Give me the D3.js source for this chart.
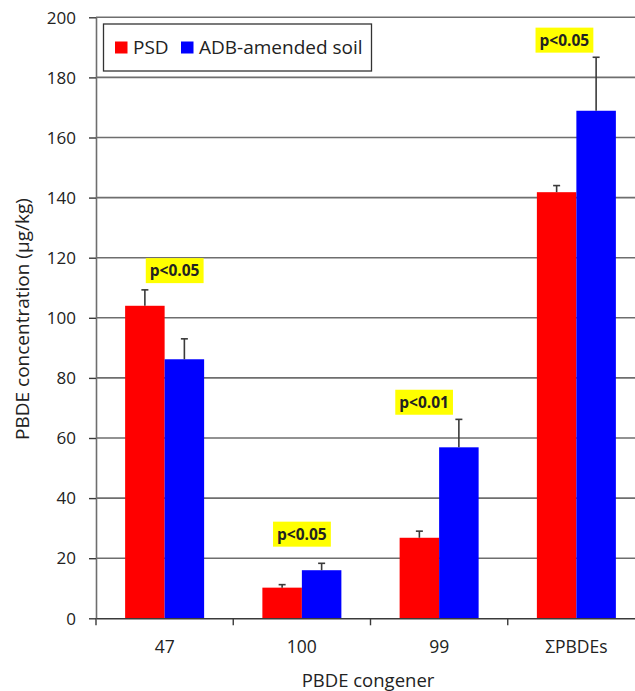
<!DOCTYPE html>
<html>
<head>
<meta charset="utf-8">
<script src="https://cdn.jsdelivr.net/npm/d3@7"></script>
<style>
  html, body { margin: 0; padding: 0; background: #fff; }
  svg { display: block; }
  text { font-family: "Open Sans", "Liberation Sans", sans-serif; fill: #222; }
</style>
</head>
<body>
<svg id="chart" width="635" height="691"></svg>
<script>
// PBDE congener concentrations, mean + upper error bar (µg/kg)
const congeners = ["47", "100", "99", "ΣPBDEs"];
const seriesNames = ["PSD", "ADB-amended soil"];
const seriesColors = ["#ff0000", "#0000ff"];
const psdMean = [104.0, 10.2, 26.8, 141.8];
const psdError = [5.3, 1.0, 2.2, 2.2];
const adbMean = [86.2, 16.0, 56.9, 168.9];
const adbError = [6.8, 2.3, 9.3, 17.8];
const yTicks = [0, 20, 40, 60, 80, 100, 120, 140, 160, 180, 200];
// significance labels: text and height of label centre (data units)
const sigLabels = ["p<0.05", "p<0.05", "p<0.01", "p<0.05"];
const sigLevel = [115.7, 28.0, 71.9, 192.4];
const sigNudge = [10, 0, -15, -12];

const svg = d3.select("#chart");
const margin = { left: 96, top: 17.3, bottom: 72.7 };
const H = 691;
const plotW = 549;               // the frame runs past the right edge
const plotH = H - margin.top - margin.bottom;

const x = d3.scaleBand().domain(congeners).range([0, plotW]).paddingInner(0).paddingOuter(0);
const y = d3.scaleLinear().domain([0, 200]).range([plotH, 0]);
const barW = 39.5;

const g = svg.append("g").attr("transform", `translate(${margin.left},${margin.top})`);

// horizontal gridlines
g.append("g").selectAll("line").data(yTicks.filter(d => d > 0)).join("line")
  .attr("x1", 0).attr("x2", plotW)
  .attr("y1", d => y(d)).attr("y2", d => y(d))
  .attr("stroke", "#6e6e6e").attr("stroke-width", 1.6);

// bars
const series = [
  { name: seriesNames[0], color: seriesColors[0], mean: psdMean, err: psdError, off: -barW },
  { name: seriesNames[1], color: seriesColors[1], mean: adbMean, err: adbError, off: 0 }
];
series.forEach(s => {
  const rows = congeners.map((c, i) => ({ c, v: s.mean[i], e: s.err[i] }));
  const bx = d => x(d.c) + x.bandwidth() / 2 + s.off;
  g.append("g").selectAll("rect").data(rows).join("rect")
    .attr("x", bx)
    .attr("width", barW)
    .attr("y", d => y(d.v))
    .attr("height", d => y(0) - y(d.v))
    .attr("fill", s.color);
  // upper error bars
  const eb = g.append("g").attr("stroke", "#3a3a3a").attr("stroke-width", 1.6);
  eb.selectAll("line.v").data(rows).join("line").attr("class", "v")
    .attr("x1", d => bx(d) + barW / 2)
    .attr("x2", d => bx(d) + barW / 2)
    .attr("y1", d => y(d.v)).attr("y2", d => y(d.v + d.e));
  eb.selectAll("line.c").data(rows).join("line").attr("class", "c")
    .attr("x1", d => bx(d) + barW / 2 - 3.5)
    .attr("x2", d => bx(d) + barW / 2 + 3.5)
    .attr("y1", d => y(d.v + d.e)).attr("y2", d => y(d.v + d.e));
});

// y axis
const yAxis = g.append("g").call(d3.axisLeft(y).tickValues(yTicks).tickSize(7).tickSizeOuter(0));
yAxis.select(".domain").attr("stroke", "#6e6e6e").attr("stroke-width", 1.6);
yAxis.selectAll(".tick line").attr("stroke", "#3a3a3a").attr("stroke-width", 1.4);
yAxis.selectAll(".tick text").attr("x", -20).attr("dy", "0.34em")
  .style("font-size", "17px").style("font-family", "'Open Sans', sans-serif").attr("fill", "#222");

// x axis
const xAxis = g.append("g").attr("transform", `translate(0,${plotH})`)
  .call(d3.axisBottom(x).tickSize(0).tickSizeOuter(0));
xAxis.select(".domain").attr("stroke", "#3a3a3a").attr("stroke-width", 1.6);
xAxis.selectAll(".tick text").attr("y", 22)
  .style("font-size", "17.5px").style("font-family", "'Open Sans', sans-serif").attr("fill", "#222");
// category boundary ticks
g.append("g").selectAll("line").data(congeners).join("line")
  .attr("x1", d => x(d)).attr("x2", d => x(d))
  .attr("y1", plotH).attr("y2", plotH + 7)
  .attr("stroke", "#3a3a3a").attr("stroke-width", 1.4);

// significance labels
sigLabels.forEach((t, i) => {
  const cx = x(congeners[i]) + x.bandwidth() / 2 + sigNudge[i];
  const cy = y(sigLevel[i]);
  const lg = g.append("g");
  const txt = lg.append("text").attr("x", cx).attr("y", cy).attr("dy", "0.35em")
    .attr("text-anchor", "middle").style("font-size", "15.5px").style("font-weight", "bold")
    .attr("fill", "#111").text(t);
  const bb = txt.node().getBBox();
  lg.insert("rect", "text").attr("x", bb.x - 4).attr("y", cy - 12.5)
    .attr("width", bb.width + 8).attr("height", 25).attr("fill", "#ffff00");
});

// legend
const lgd = svg.append("g");
lgd.append("rect").attr("x", 103.5).attr("y", 24).attr("width", 268).attr("height", 47)
  .attr("fill", "#fff").attr("stroke", "#333").attr("stroke-width", 1.3);
const legendX = [115, 181];
seriesNames.forEach((n, i) => {
  lgd.append("rect").attr("x", legendX[i]).attr("y", 41.5).attr("width", 12.5).attr("height", 12)
    .attr("fill", seriesColors[i]);
  lgd.append("text").attr("x", legendX[i] + 18).attr("y", 47.5).attr("dy", "0.35em")
    .style("font-size", "19px").text(n);
});

// axis titles
svg.append("text").attr("x", 368).attr("y", 687).attr("text-anchor", "middle")
  .style("font-size", "18.5px").text("PBDE congener");
svg.append("text").attr("transform", "translate(29,319) rotate(-90)").attr("text-anchor", "middle")
  .style("font-size", "19px").text("PBDE concentration (μg/kg)");
</script>
</body>
</html>
